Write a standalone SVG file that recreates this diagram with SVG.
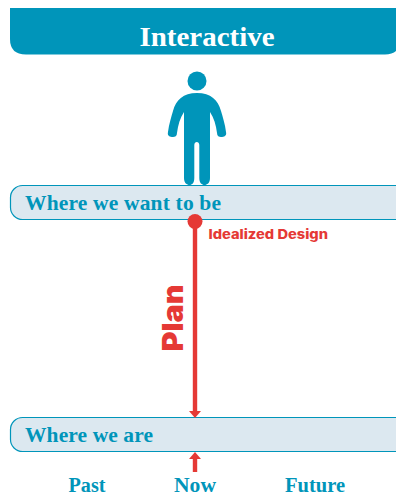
<svg xmlns="http://www.w3.org/2000/svg" width="396" height="495" viewBox="0 0 396 495">
<style>
.s{font-family:"Liberation Serif","Times New Roman",serif;font-weight:700;fill:#0095ba}
.w{font-family:Inter,"Liberation Sans",sans-serif;font-weight:800;fill:#e53935}
.bar{fill:#dce8f0;stroke:#0095ba;stroke-width:1.2}
</style>
<rect width="396" height="495" fill="#fff"/>
<g id="header">
<path d="M10 8H400V40Q400 54.500 385 54.500H26Q10 54.500 10 39Z" fill="#0095ba"/>
<text x="207" y="45.500" text-anchor="middle" class="s" style="fill:#fff" font-size="27" textLength="135" lengthAdjust="spacingAndGlyphs">Interactive</text>
</g>
<g id="person" fill="#0095ba">
<circle cx="197" cy="81" r="9.500"/>
<path d="M197 93C183 93 176 100 173 111C171 118 169 124 168 132C167 136 170 137 173 137C175 137 177 136 177 133C178 125 180 118 184 112V178C184 183 187 185 189.500 185C192 185 194.300 183 194.300 178V145C194.300 141 199.300 141 199.300 145V178C199.300 183 202 185 204.500 185C207 185 210 183 210 178V112C214 118 216 125 217 133C217 136 219 137 221 137C224 137 227 136 226 132C225 124 223 118 221 111C218 100 211 93 197 93Z"/>
</g>
<g id="want">
<rect class="bar" x="10.500" y="185.500" width="400" height="34" rx="12"/>
<text x="25" y="210" class="s" font-size="21.500" textLength="196" lengthAdjust="spacing">Where we want to be</text>
</g>
<g id="are">
<rect class="bar" x="10.500" y="417.500" width="400" height="34" rx="12"/>
<text x="25" y="441.700" class="s" font-size="21.500" textLength="128" lengthAdjust="spacing">Where we are</text>
</g>
<g id="connectors" fill="#e53935" stroke="none">
<circle cx="195" cy="221.500" r="7.500"/>
<rect x="192.800" y="225" width="4.400" height="186"/>
<path d="M189 411H201L195 418Z"/>
<rect x="192.800" y="458" width="4.400" height="14"/>
<path d="M189 459H201L195 452Z"/>
</g>
<g id="labels">
<text x="208.500" y="238.500" class="w" font-size="13" textLength="119.500" lengthAdjust="spacingAndGlyphs">Idealized Design</text>
<text transform="translate(182.700 351.500) rotate(-90)" class="w" style="font-weight:900" font-size="29" textLength="67" lengthAdjust="spacingAndGlyphs">Plan</text>
<text x="87" y="491.500" text-anchor="middle" class="s" font-size="20" textLength="37" lengthAdjust="spacingAndGlyphs">Past</text>
<text x="195" y="491.500" text-anchor="middle" class="s" font-size="20" textLength="42" lengthAdjust="spacingAndGlyphs">Now</text>
<text x="315" y="491.500" text-anchor="middle" class="s" font-size="20" textLength="60" lengthAdjust="spacingAndGlyphs">Future</text>
</g>
</svg>
